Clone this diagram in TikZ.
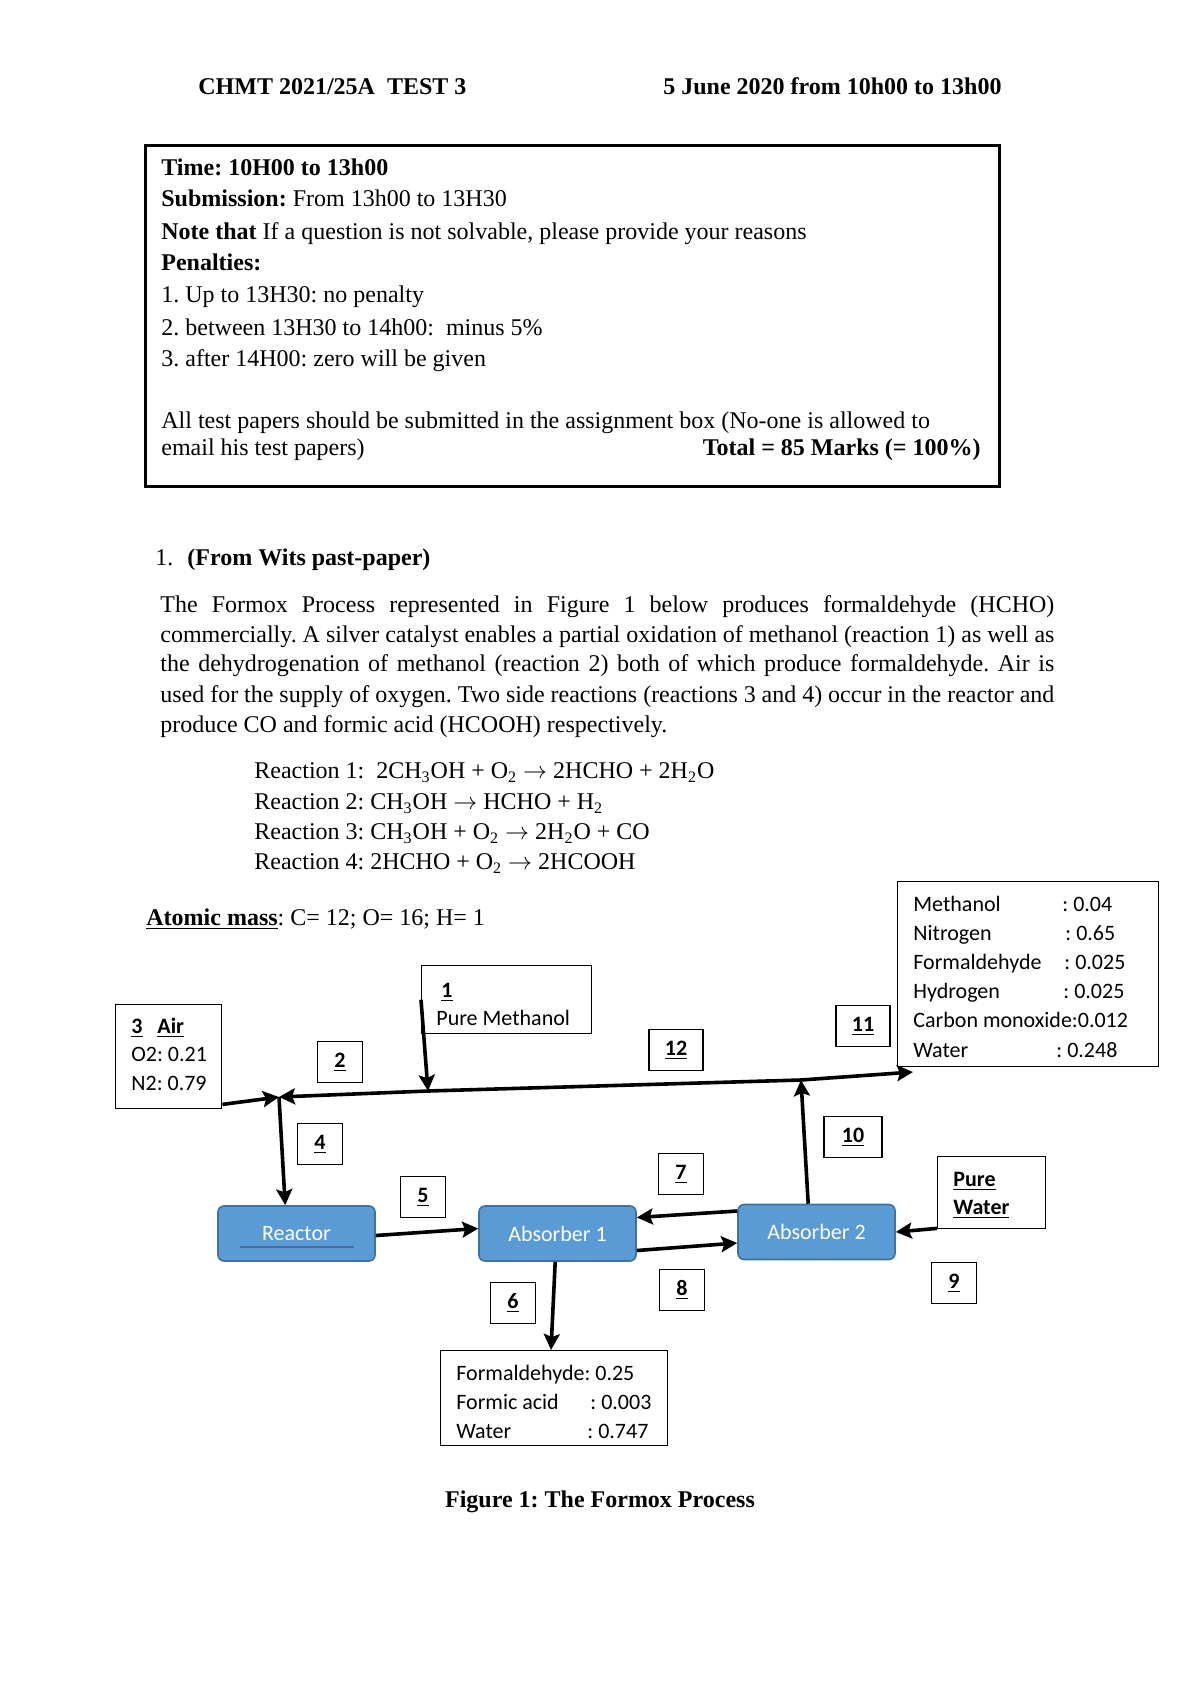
\documentclass[tikz,border=0pt]{standalone}
\usepackage{fontspec}
\setmainfont{Liberation Serif}
\newfontfamily\carl{Carlito}
\usetikzlibrary{arrows.meta,calc}
\definecolor{boxblue}{HTML}{5B9BD5}
\definecolor{boxedge}{HTML}{41719C}
\newcommand\sbs[1]{\textsubscript{#1}}
\begin{document}
\frenchspacing
\begin{tikzpicture}[x=0.5pt,y=-0.5pt,
  txt/.style={anchor=mid west, inner sep=0pt, yshift=-1.6pt, font=\fontsize{12}{14}\selectfont},
  txtr/.style={anchor=mid east, inner sep=0pt, yshift=-1.6pt, font=\fontsize{12}{14}\selectfont},
  ctxt/.style={anchor=mid west, inner sep=0pt, yshift=-1.5pt, font=\carl\fontsize{11}{13}\selectfont},
  frame/.style={draw, line width=0.7pt, anchor=north west, inner sep=0pt},
  numbox/.style={draw, line width=0.7pt, inner sep=0pt, minimum height=20.5pt, minimum width=22.5pt, font=\carl\bfseries\fontsize{11}{13}\selectfont},
  unitbox/.style={draw=boxedge, line width=0.8pt, fill=boxblue, rounded corners=3pt, minimum width=78.5pt, minimum height=27.5pt, inner sep=0pt, text=white, font=\carl\fontsize{11}{13}\selectfont},
  flowline/.style={line width=1.8pt},
  flow/.style={line width=1.8pt, -{Stealth[length=8pt,width=8pt,inset=1.5pt]}}]
\useasboundingbox (0,0) rectangle (1200,1696);
\fill[white] (0,0) rectangle (1200,1696);

% header
\node[txt, font=\bfseries\fontsize{12}{14}\selectfont] (hl) at (198,87) {CHMT 2021/25A~~TEST 3};
\node[txtr, font=\bfseries\fontsize{12}{14}\selectfont] (hr) at (1002,87) {5 June 2020 from 10h00 to 13h00};

% instructions box
\node[frame, line width=1.5pt, minimum width=427pt, minimum height=170.5pt] (ibox) at (144,144) {};
\node[txt] (i1) at (161,168) {\textbf{Time: 10H00 to 13h00}};
\node[txt] (i2) at (161,199) {\textbf{Submission:} From 13h00 to 13H30};
\node[txt] (i3) at (161,232) {\textbf{Note that} If a question is not solvable, please provide your reasons};
\node[txt] (i4) at (161,263) {\textbf{Penalties:}};
\node[txt] (i5) at (161,295) {1. Up to 13H30: no penalty};
\node[txt] (i6) at (161,328) {2. between 13H30 to 14h00:~~minus 5\%};
\node[txt] (i7) at (161,359) {3. after 14H00: zero will be given};
\node[txt] (i8) at (161,421) {All test papers should be submitted in the assignment box (No-one is allowed to};
\node[txt] (i9) at (161,448) {email his test papers)};
\node[txtr] (i10) at (981,448) {\textbf{Total = 85 Marks (= 100\%)}};

% question
\node[txt] (q1n) at (155,558) {1.};
\node[txt] (q1t) at (187,558) {\textbf{(From Wits past-paper)}};
\node[txt] (p1) at (160,605) {\makebox[447pt][s]{The Formox Process represented in Figure 1 below produces formaldehyde (HCHO)}};
\node[txt] (p2) at (160,635) {\makebox[447pt][s]{commercially. A silver catalyst enables a partial oxidation of methanol (reaction 1) as well as}};
\node[txt] (p3) at (160,664) {\makebox[447pt][s]{the dehydrogenation of methanol (reaction 2) both of which produce formaldehyde. Air is}};
\node[txt] (p4) at (160,695) {\makebox[447pt][s]{used for the supply of oxygen. Two side reactions (reactions 3 and 4) occur in the reactor and}};
\node[txt] (p5) at (160,725) {produce CO and formic acid (HCOOH) respectively.};

\node[txt] (r1) at (254,771) {Reaction 1:~ 2CH\sbs{3}OH + O\sbs{2} $\rightarrow$ 2HCHO + 2H\sbs{2}O};
\node[txt] (r2) at (254,802) {Reaction 2: CH\sbs{3}OH $\rightarrow$ HCHO + H\sbs{2}};
\node[txt] (r3) at (254,832) {Reaction 3: CH\sbs{3}OH + O\sbs{2} $\rightarrow$ 2H\sbs{2}O + CO};
\node[txt] (r4) at (254,862) {Reaction 4: 2HCHO + O\sbs{2} $\rightarrow$ 2HCOOH};

\node[txt] (am) at (146,918) {\textbf{\underline{Atomic mass}}: C= 12; O= 16; H= 1};

% composition box top right
\node[frame, minimum width=130.5pt, minimum height=92.5pt] (comp) at (897,881) {};
\node[ctxt] (c1) at (913,904) {Methanol};       \node[ctxt] (c1v) at (1062,904) {: 0.04};
\node[ctxt] (c2) at (913,933) {Nitrogen};       \node[ctxt] (c2v) at (1065,933) {: 0.65};
\node[ctxt] (c3) at (913,962) {Formaldehyde};   \node[ctxt] (c3v) at (1064,962) {: 0.025};
\node[ctxt] (c4) at (913,991) {Hydrogen};       \node[ctxt] (c4v) at (1063,991) {: 0.025};
\node[ctxt] (c5) at (913,1020) {Carbon monoxide:0.012};
\node[ctxt] (c6) at (913,1050) {Water};          \node[ctxt] (c6v) at (1056,1050) {: 0.248};

% air box
\node[frame, minimum width=53pt, minimum height=52pt] (air) at (115,1004) {};
\node[ctxt] (a1) at (131,1026) {\textbf{\underline{3}}~~~\textbf{\underline{Air}}};
\node[ctxt] (a2) at (131,1054) {O2: 0.21};
\node[ctxt] (a3) at (131,1083) {N2: 0.79};

% methanol box
\node[frame, minimum width=85pt, minimum height=34pt] (meth) at (421,965) {};
\node[ctxt] (m1) at (441,990) {\textbf{\underline{1}}};
\node[ctxt] (m2) at (436,1018) {Pure Methanol};

% pure water box
\node[frame, minimum width=54pt, minimum height=36pt] (water) at (937,1156) {};
\node[ctxt] (w1) at (953,1179) {\textbf{\underline{Pure}}};
\node[ctxt] (w2) at (953,1207) {\textbf{\underline{Water}}};

% bottom composition box
\node[frame, minimum width=113.5pt, minimum height=47.5pt] (prod) at (440,1350) {};
\node[ctxt] (b1) at (456,1373) {Formaldehyde: 0.25};
\node[ctxt] (b2) at (456,1402) {Formic acid};  \node[ctxt] (b2v) at (590,1402) {: 0.003};
\node[ctxt] (b3) at (456,1431) {Water};        \node[ctxt] (b3v) at (587,1431) {: 0.747};

% stream number boxes
\node[numbox] (n2) at (340,1062) {\underline{2}};
\node[numbox, minimum width=27pt] (n12) at (676,1050) {\underline{12}};
\node[numbox, minimum width=27pt] (n11) at (863,1026) {\underline{11}};
\node[numbox] (n4) at (320,1144) {\underline{4}};
\node[numbox, minimum width=29pt] (n10) at (853,1137) {\underline{10}};
\node[numbox] (n5) at (423,1197) {\underline{5}};
\node[numbox] (n7) at (681,1174) {\underline{7}};
\node[numbox] (n8) at (682,1290) {\underline{8}};
\node[numbox] (n9) at (954,1283) {\underline{9}};
\node[numbox] (n6) at (513,1303) {\underline{6}};

% units
\node[unitbox] (reactor) at (296.5,1233.5) {Reactor};
\draw[boxedge, line width=0.7pt] (240,1247) -- (354,1247);
\node[unitbox] (abs1) at (557.5,1233.5) {Absorber 1};
\node[unitbox] (abs2) at (816.5,1232) {Absorber 2};

% junction coordinates
\coordinate (J) at (279,1097);
\coordinate (M) at (428,1091);
\coordinate (X) at (801,1080);
\coordinate (E) at (913,1072);

% connectors
\draw[flow] ($(air.south east)+(0,-5)$) -- (J);
\draw[flow] (M) -- (J);
\draw[flowline] (M) -- (X);
\draw[flow] (X) -- (E);
\draw[flow] (meth.west) -- (M);
\draw[flow] (J) -- ($(reactor.north west)+(68,0)$);
\draw[flow] ($(abs2.north west)+(71,0)$) -- (X);
\draw[flow] ($(reactor.east)+(0,2)$) -- ($(abs1.west)+(0,-5)$);
\draw[flow] ($(abs2.west)+(0,-21)$) -- ($(abs1.east)+(0,-16)$);
\draw[flow] ($(abs1.east)+(0,17)$) -- ($(abs2.west)+(0,11)$);
\draw[flow] ($(water.south west)+(0,-1)$) -- (abs2.east);
\draw[flow] ($(abs1.south west)+(77,0)$) -- ($(prod.north west)+(111,0)$);

% caption
\node[inner sep=0pt, yshift=-1.6pt, font=\bfseries\fontsize{12}{14}\selectfont] (cap) at (600,1499) {Figure 1: The Formox Process};
\end{tikzpicture}
\end{document}
